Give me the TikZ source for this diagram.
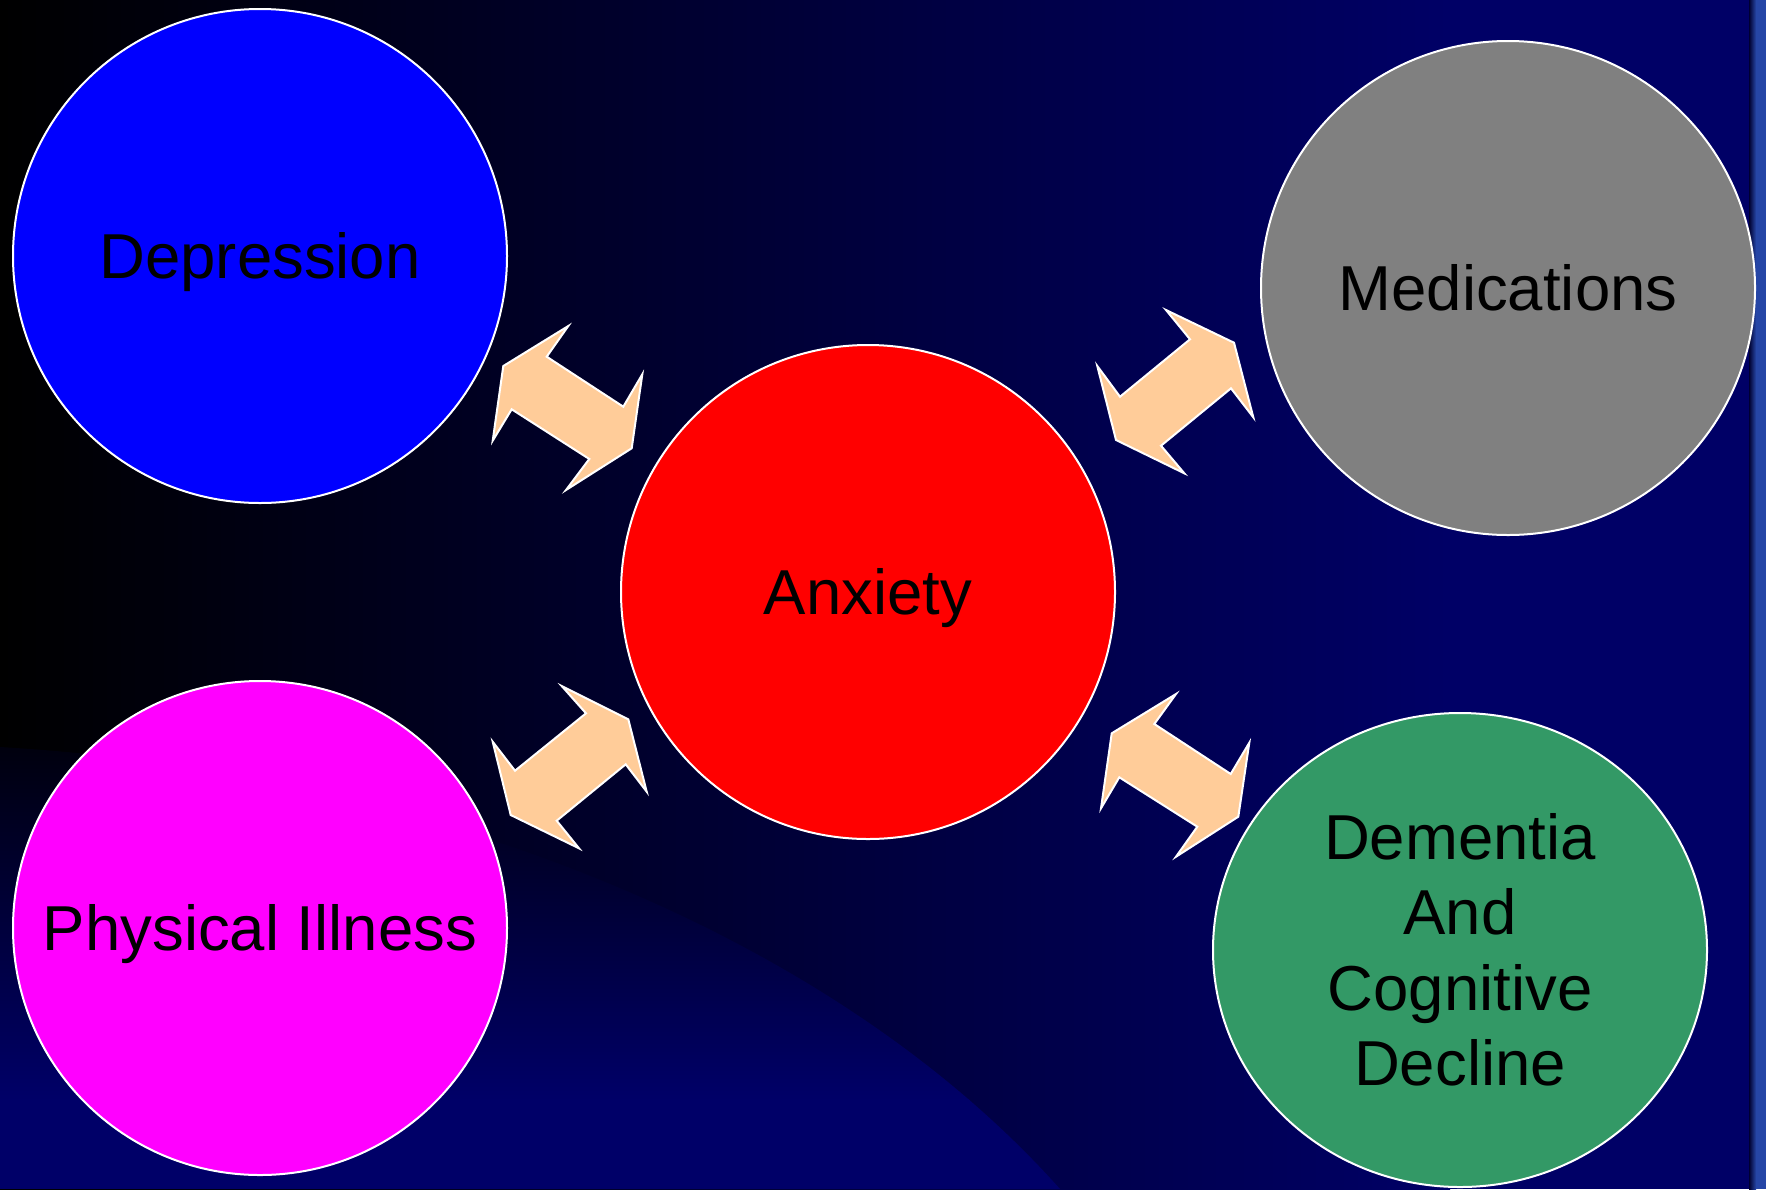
\documentclass[tikz,border=0pt]{standalone}
\usepackage{fontspec}
\setmainfont{Liberation Sans}
\usetikzlibrary{shapes.geometric}
\definecolor{bgnavy}{HTML}{000066}
\definecolor{lowtop}{HTML}{00000E}
\definecolor{lowbot}{HTML}{000068}
\definecolor{bandedge}{HTML}{000030}
\definecolor{bandblue}{HTML}{2646A6}
\definecolor{depblue}{HTML}{0000FF}
\definecolor{medgrey}{HTML}{808080}
\definecolor{anxred}{HTML}{FF0000}
\definecolor{phymag}{HTML}{FF00FF}
\definecolor{demgreen}{HTML}{339966}
\definecolor{peach}{HTML}{FFCC99}
\begin{document}
\begin{tikzpicture}[x=1pt,y=-1pt,
  bubble/.style={circle, draw=white, line width=2pt, minimum size=494pt, inner sep=0pt,
    font=\fontsize{63.5pt}{75.5pt}\selectfont, text=black},
  oneline/.style={text height=45.5pt, text depth=0pt},
  dblarrow/.style={fill=peach, draw=white, line width=2pt, line join=miter}]
\useasboundingbox (0,0) rectangle (1766,1189);
% background
\shade[left color=black, right color=bgnavy] (0,0) rectangle (1450,1189);
\fill[bgnavy] (1449,0) rectangle (1750,1189);
\begin{scope}
  \clip (0,747) .. controls (400,770) and (820,920) .. (1060,1189) -- (0,1189) -- cycle;
  \shade[top color=lowtop, bottom color=lowbot] (0,747) rectangle (1100,1100);
  \fill[lowbot] (0,1099) rectangle (1100,1189);
\end{scope}
\shade[left color=bandedge, right color=bandblue] (1749,0) rectangle (1756,1189);
\fill[bandblue] (1755.5,0) rectangle (1766,1189);
% arrows
\draw[dblarrow] (503.3,366) -- (568.3,326) -- (546.7,356.7) -- (623.3,406.7) -- (642.3,374.3) -- (631.7,448.3) -- (566,490) -- (589.3,459) -- (511.7,409.3) -- (492.7,440.7) -- cycle;
\draw[dblarrow] (1234,342.7) -- (1166,310) -- (1190,339.3) -- (1120,396.7) -- (1097.3,366) -- (1116,440) -- (1184.3,473.3) -- (1161,445.7) -- (1231,388.3) -- (1253.3,417.3) -- cycle;
\draw[dblarrow] (628.3,719.3) -- (561.7,686) -- (586,713.3) -- (515,770.7) -- (492.7,741.7) -- (510.7,815) -- (579,848.3) -- (556.7,820.7) -- (625.7,764.3) -- (646.7,791.7) -- cycle;
\draw[dblarrow] (1111.7,733.3) -- (1176,694) -- (1154.3,724) -- (1230.7,774) -- (1249.3,742.7) -- (1238.3,816.7) -- (1176,856.7) -- (1197.3,826.7) -- (1119.3,777.3) -- (1101,808.3) -- cycle;
% circles
\node[bubble, fill=depblue, oneline] (dep) at (260,256) {Depression};
\node[bubble, fill=medgrey, oneline] (med) at (1508,288) {Medications};
\node[bubble, fill=anxred, oneline] (anx) at (868,592) {Anxiety};
\node[bubble, fill=phymag, oneline] (phy) at (260,928) {Physical Illness};
\node[bubble, ellipse, minimum width=494pt, minimum height=474pt, fill=demgreen, align=center] (dem) at (1460,950) {Dementia\\And\\Cognitive\\Decline};
\end{tikzpicture}
\end{document}
